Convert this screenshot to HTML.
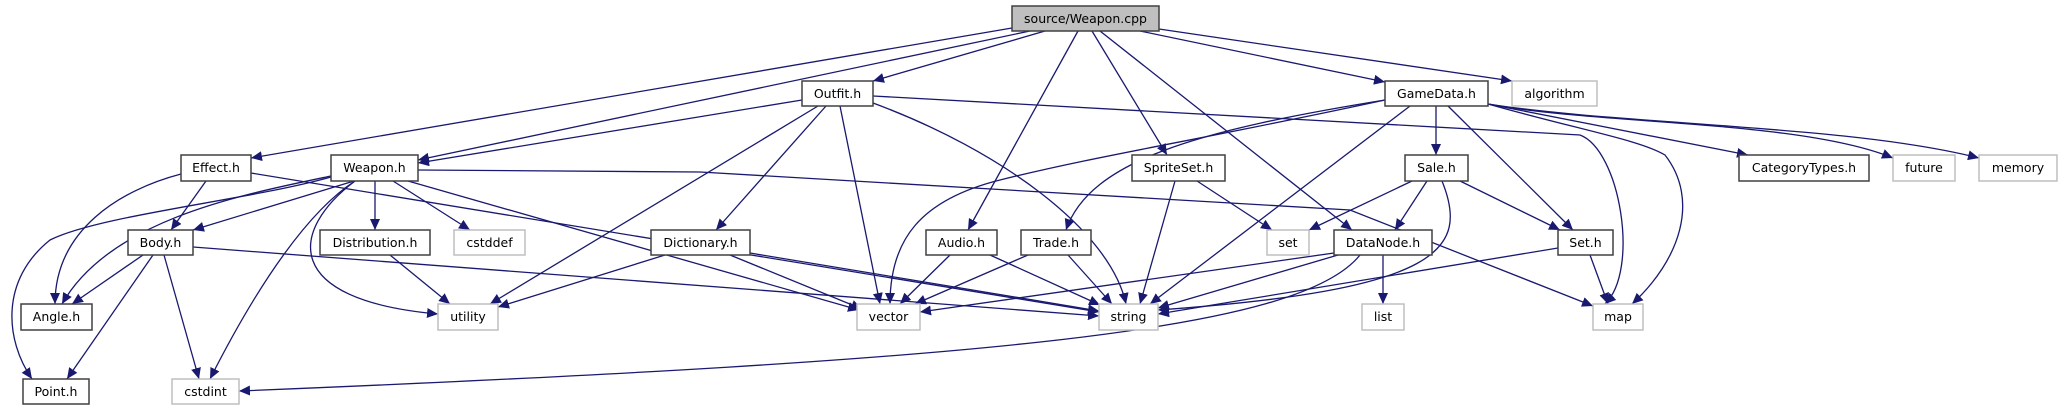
<!DOCTYPE html>
<html><head><meta charset="utf-8"><style>
html,body{margin:0;padding:0;background:#fff;}
svg{display:block;}
text{font-family:"DejaVu Sans","Liberation Sans",sans-serif;font-size:12.5px;fill:#000;text-anchor:middle;}
.n rect{fill:#fff;stroke:#404040;stroke-width:1.5;}
.g rect{fill:#fff;stroke:#bfbfbf;stroke-width:1.5;}
.e{fill:none;stroke:#191970;stroke-width:1.3;marker-end:url(#a);}
</style></head><body>
<svg width="2062" height="411" viewBox="0 0 2062 411" xmlns="http://www.w3.org/2000/svg">
<defs><marker id="a" markerUnits="userSpaceOnUse" markerWidth="12" markerHeight="10" refX="11" refY="5" orient="auto"><path d="M0,0 L11,5 L0,10 z" fill="#191970"/></marker></defs>
<!-- edges -->
<path class="e" d="M1012,28 L251,158"/>
<path class="e" d="M1030,31 L418,160"/>
<path class="e" d="M1045,31 L873,81"/>
<path class="e" d="M1140,31 L1385,82"/>
<path class="e" d="M1159,29 L1512,81"/>
<path class="e" d="M1078,31 L968,230"/>
<path class="e" d="M1092,31 L1167,155"/>
<path class="e" d="M1100,31 L1352,230"/>
<path class="e" d="M802,100 L418,163"/>
<path class="e" d="M818,106 L490,304"/>
<path class="e" d="M826,106 L716,230"/>
<path class="e" d="M840,106 L880,304"/>
<path class="e" d="M873,103 C1000,150 1110,230 1126,304"/>
<path class="e" d="M873,96 L1580,135 C1620,150 1640,270 1605,304"/>
<path class="e" d="M354,181 L193,230"/>
<path class="e" d="M331,176 C240,195 110,220 62,304"/>
<path class="e" d="M331,177 C250,200 100,215 50,240 C0,280 5,340 32,379"/>
<path class="e" d="M355,181 C310,210 260,280 210,379"/>
<path class="e" d="M355,181 C290,230 280,300 438,314"/>
<path class="e" d="M375,181 L375,230"/>
<path class="e" d="M393,181 L470,230"/>
<path class="e" d="M408,181 L859,310"/>
<path class="e" d="M418,170 L700,172 L1350,210 L1593,306"/>
<path class="e" d="M181,174 C120,190 55,230 55,304"/>
<path class="e" d="M206,181 L171,230"/>
<path class="e" d="M251,173 L1099,312"/>
<path class="e" d="M143,255 L72,304"/>
<path class="e" d="M153,255 L67,379"/>
<path class="e" d="M164,255 L199,379"/>
<path class="e" d="M193,247 L1099,316"/>
<path class="e" d="M390,255 L450,304"/>
<path class="e" d="M665,255 L498,307"/>
<path class="e" d="M730,255 L862,309"/>
<path class="e" d="M750,253 L1099,311"/>
<path class="e" d="M950,255 L900,304"/>
<path class="e" d="M990,255 L1100,305"/>
<path class="e" d="M1028,255 L915,304"/>
<path class="e" d="M1068,255 L1112,304"/>
<path class="e" d="M1197,181 L1272,230"/>
<path class="e" d="M1175,181 L1140,304"/>
<path class="e" d="M1385,100 C1200,140 1100,155 1000,180 C920,200 890,240 890,304"/>
<path class="e" d="M1385,100 C1200,130 1090,160 1066,230"/>
<path class="e" d="M1410,106 L1150,304"/>
<path class="e" d="M1436,106 L1436,155"/>
<path class="e" d="M1448,106 L1573,230"/>
<path class="e" d="M1488,104 C1580,130 1640,140 1665,155 C1700,200 1680,260 1632,304"/>
<path class="e" d="M1488,104 L1748,155"/>
<path class="e" d="M1488,104 C1600,125 1800,120 1893,158"/>
<path class="e" d="M1488,104 C1620,125 1850,125 1979,158"/>
<path class="e" d="M1412,181 L1309,230"/>
<path class="e" d="M1427,181 L1395,230"/>
<path class="e" d="M1442,181 C1470,250 1440,290 1158,310"/>
<path class="e" d="M1460,181 L1560,230"/>
<path class="e" d="M1334,253 L920,312"/>
<path class="e" d="M1338,255 L1158,308"/>
<path class="e" d="M1360,255 C1300,330 1000,360 239,391"/>
<path class="e" d="M1383,255 L1383,304"/>
<path class="e" d="M1558,248 L1158,314"/>
<path class="e" d="M1590,255 L1608,304"/>
<!-- nodes -->
<g><rect x="1012" y="6" width="147" height="25" fill="#bfbfbf" stroke="#404040" stroke-width="1.5"/><text x="1085.5" y="23">source/Weapon.cpp</text></g>
<g class="n"><rect x="802" y="81" width="71" height="25"/><text x="837.5" y="98">Outfit.h</text></g>
<g class="n"><rect x="1385" y="81" width="103" height="25"/><text x="1436.5" y="98">GameData.h</text></g>
<g class="g"><rect x="1512" y="81" width="85" height="25"/><text x="1554.5" y="98">algorithm</text></g>
<g class="n"><rect x="181" y="155" width="70" height="26"/><text x="216" y="172">Effect.h</text></g>
<g class="n"><rect x="331" y="155" width="87" height="26"/><text x="374.5" y="172">Weapon.h</text></g>
<g class="n"><rect x="1132" y="155" width="93" height="26"/><text x="1178.5" y="172">SpriteSet.h</text></g>
<g class="n"><rect x="1405" y="155" width="63" height="26"/><text x="1436.5" y="172">Sale.h</text></g>
<g class="n"><rect x="1739" y="155" width="130" height="26"/><text x="1804" y="172">CategoryTypes.h</text></g>
<g class="g"><rect x="1893" y="155" width="62" height="26"/><text x="1924" y="172">future</text></g>
<g class="g"><rect x="1979" y="155" width="78" height="26"/><text x="2018" y="172">memory</text></g>
<g class="n"><rect x="128" y="230" width="65" height="25"/><text x="160.5" y="247">Body.h</text></g>
<g class="n"><rect x="320" y="230" width="110" height="25"/><text x="375" y="247">Distribution.h</text></g>
<g class="g"><rect x="454" y="230" width="71" height="25"/><text x="489.5" y="247">cstddef</text></g>
<g class="n"><rect x="651" y="230" width="99" height="25"/><text x="700.5" y="247">Dictionary.h</text></g>
<g class="n"><rect x="926" y="230" width="71" height="25"/><text x="961.5" y="247">Audio.h</text></g>
<g class="n"><rect x="1021" y="230" width="70" height="25"/><text x="1056" y="247">Trade.h</text></g>
<g class="g"><rect x="1267" y="230" width="42" height="25"/><text x="1288" y="247">set</text></g>
<g class="n"><rect x="1334" y="230" width="98" height="25"/><text x="1383" y="247">DataNode.h</text></g>
<g class="n"><rect x="1558" y="230" width="55" height="25"/><text x="1585.5" y="247">Set.h</text></g>
<g class="n"><rect x="21" y="304" width="71" height="26"/><text x="56.5" y="321">Angle.h</text></g>
<g class="g"><rect x="438" y="304" width="60" height="26"/><text x="468" y="321">utility</text></g>
<g class="g"><rect x="857" y="304" width="63" height="26"/><text x="888.5" y="321">vector</text></g>
<g class="g"><rect x="1099" y="304" width="59" height="26"/><text x="1128.5" y="321">string</text></g>
<g class="g"><rect x="1362" y="304" width="42" height="26"/><text x="1383" y="321">list</text></g>
<g class="g"><rect x="1593" y="304" width="50" height="26"/><text x="1618" y="321">map</text></g>
<g class="n"><rect x="23" y="379" width="66" height="25"/><text x="56" y="396">Point.h</text></g>
<g class="g"><rect x="172" y="379" width="67" height="25"/><text x="205.5" y="396">cstdint</text></g>
</svg>
</body></html>
